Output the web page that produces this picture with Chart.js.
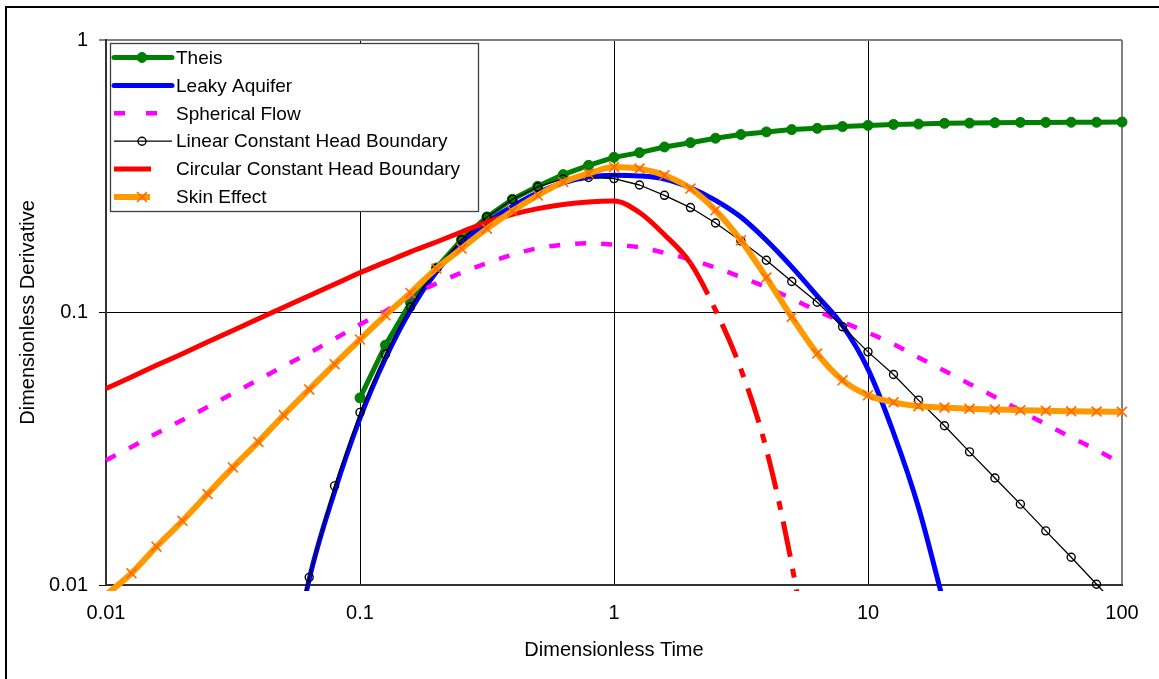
<!DOCTYPE html>
<html>
<head>
<meta charset="utf-8">
<script src="https://cdn.jsdelivr.net/npm/chart.js@4.4.0/dist/chart.umd.min.js"></script>
<style>
  html, body { margin: 0; padding: 0; background: #fff; }
  #wrap { width: 1159px; height: 679px; }
</style>
</head>
<body>
<div id="wrap"><canvas id="derivChart" width="1159" height="679"></canvas></div>
<script>
// dimensionless time, 10 points per log cycle
const timeValues = [0.01, 0.0126, 0.0158, 0.02, 0.0251, 0.0316, 0.0398, 0.0501, 0.0631, 0.0794,
                    0.1, 0.126, 0.158, 0.2, 0.251, 0.316, 0.398, 0.501, 0.631, 0.794,
                    1, 1.26, 1.58, 2, 2.51, 3.16, 3.98, 5.01, 6.31, 7.94,
                    10, 12.6, 15.8, 20, 25.1, 31.6, 39.8, 50.1, 63.1, 79.4, 100];
const xTickValues = [0.01, 0.1, 1, 10, 100];
const yTickValues = [0.01, 0.1, 1];

const seriesNames = ['Theis', 'Leaky Aquifer', 'Spherical Flow', 'Linear Constant Head Boundary',
                     'Circular Constant Head Boundary', 'Skin Effect'];

const theis = [null, null, null, null, null, null, null, null, null, null,
               0.0486, 0.0759, 0.1088, 0.1457, 0.1852, 0.2242, 0.2603, 0.2905, 0.3206, 0.3468,
               0.371, 0.386, 0.405, 0.420, 0.436, 0.450, 0.460, 0.469, 0.474, 0.481,
               0.486, 0.490, 0.4915, 0.4945, 0.4955, 0.497, 0.4985, 0.4985, 0.499, 0.499, 0.5];
const leaky = [null, null, null, null, null, null, null, 0.0035, 0.0105, 0.022,
               0.041, 0.068, 0.102, 0.141, 0.178, 0.213, 0.245, 0.275, 0.299, 0.314,
               0.319, 0.317, 0.309, 0.287, 0.258, 0.224, 0.184, 0.147, 0.1150, 0.0895,
               0.062, 0.0362, 0.0193, 0.0084, null, null, null, null, null, null, null];
const spherical = [0.0287, 0.0321, 0.036, 0.0403, 0.045, 0.0505, 0.0566, 0.0636, 0.0711, 0.080,
                   0.0904, 0.1012, 0.115, 0.1278, 0.140, 0.1517, 0.163, 0.1722, 0.1773, 0.1796,
                   0.1774, 0.1735, 0.1655, 0.1565, 0.146, 0.135, 0.1238, 0.1125, 0.1014, 0.0924,
                   0.0844, 0.0765, 0.0684, 0.0611, 0.0547, 0.049, 0.0436, 0.0389, 0.0348, 0.0313, 0.0279];
const linearBoundary = [null, null, null, null, null, null, null, 0.0043, 0.01067, 0.0231,
                        0.043, 0.0703, 0.1048, 0.145, 0.185, 0.224, 0.260, 0.2888, 0.309, 0.313,
                        0.310, 0.2937, 0.2692, 0.2427, 0.2131, 0.183, 0.1555, 0.130, 0.109, 0.0886,
                        0.0717, 0.0592, 0.0477, 0.0384, 0.0308, 0.0247, 0.0198, 0.0158, 0.01264, 0.01006, 0.0080];
const circularBoundary = [0.0526, 0.058, 0.064, 0.0706, 0.0779, 0.0859, 0.0948, 0.1045, 0.1153, 0.127,
                          0.140, 0.153, 0.167, 0.1815, 0.1975, 0.2148, 0.229, 0.2406, 0.249, 0.2545,
                          0.2565, 0.2327, 0.1929, 0.1517, 0.102, 0.0619, 0.0315, 0.0119, 0.0033, null,
                          null, null, null, null, null, null, null, null, null, null, null];
const skin = [0.0092, 0.01104, 0.01382, 0.0172, 0.02156, 0.027, 0.0335, 0.042, 0.0522, 0.0646,
              0.0796, 0.0977, 0.118, 0.145, 0.1717, 0.203, 0.2358, 0.269, 0.301, 0.3234,
              0.342, 0.3373, 0.3188, 0.285, 0.2372, 0.184, 0.1344, 0.0963, 0.0707, 0.0564,
              0.0497, 0.0468, 0.0453, 0.0448, 0.0443, 0.0441, 0.0438, 0.0436, 0.0434, 0.0433, 0.0432];

function toPoints(values) {
    return timeValues.map((t, i) => ({ x: t, y: values[i] })).filter(p => p.y !== null);
}

const fontFamily = "'Liberation Sans', Arial, sans-serif";
Chart.defaults.font.family = fontFamily;
Chart.defaults.color = '#000';

const plotClip = { left: 8, top: 8, right: 8, bottom: 6 };

// white page with the black frame round it
const pageFrame = {
    id: 'pageFrame',
    beforeDraw(chart) {
        const ctx = chart.ctx;
        ctx.save();
        ctx.fillStyle = '#fff';
        ctx.fillRect(0, 0, chart.width, chart.height);
        ctx.strokeStyle = '#000';
        ctx.lineWidth = 2;
        ctx.beginPath();
        ctx.moveTo(6, chart.height);
        ctx.lineTo(6, 7);
        ctx.lineTo(chart.width, 7);
        ctx.stroke();
        ctx.restore();
    }
};

function drawMarker(ctx, ds, x, y) {
    ctx.lineWidth = ds.pointBorderWidth;
    ctx.strokeStyle = ds.pointBorderColor;
    ctx.fillStyle = ds.pointBackgroundColor;
    const r = ds.pointRadius;
    ctx.beginPath();
    if (ds.pointStyle === 'crossRot') {
        const d = r * Math.SQRT1_2;
        ctx.moveTo(x - d, y - d); ctx.lineTo(x + d, y + d);
        ctx.moveTo(x - d, y + d); ctx.lineTo(x + d, y - d);
        ctx.stroke();
    } else {
        ctx.arc(x, y, r, 0, Math.PI * 2);
        ctx.fill();
        ctx.stroke();
    }
}

// legend box in the top-left corner of the plot
const legendPanel = {
    id: 'legendPanel',
    afterDraw(chart) {
        const ctx = chart.ctx;
        ctx.save();
        ctx.fillStyle = '#fff';
        ctx.fillRect(110, 43, 369, 168);
        ctx.strokeStyle = '#404040';
        ctx.lineWidth = 1.3;
        ctx.strokeRect(110.5, 43.5, 368, 168);
        ctx.font = '19px ' + fontFamily;
        ctx.textBaseline = 'middle';
        ctx.textAlign = 'left';
        chart.data.datasets.forEach((ds, i) => {
            const y = 57.5 + i * 27.9;
            ctx.save();
            ctx.strokeStyle = ds.borderColor;
            ctx.lineWidth = ds.borderWidth;
            ctx.lineCap = ds.sampleCap || 'butt';
            ctx.setLineDash(ds.sampleDash || []);
            ctx.beginPath();
            ctx.moveTo(114, y);
            ctx.lineTo(ds.sampleEnd, y);
            ctx.stroke();
            ctx.setLineDash([]);
            if (ds.pointRadius > 0) drawMarker(ctx, ds, 142, y);
            ctx.restore();
            ctx.fillStyle = '#000';
            ctx.fillText(ds.label, 176, y + 1);
        });
        ctx.restore();
    }
};

const gridColor = (edge) => (c) => (c.tick && c.tick.value === edge ? '#808080' : '#000');
const gridWidth = (edge) => (c) => (c.tick && c.tick.value === edge ? 2 : 1);

const ctx = document.getElementById('derivChart').getContext('2d');
const derivChart = new Chart(ctx, {
    type: 'line',
    data: {
        datasets: [
        {
            label: seriesNames[0],
            data: toPoints(theis),
            borderColor: '#008000',
            backgroundColor: '#008000',
            borderWidth: 5,
            pointStyle: 'circle',
            pointRadius: 5,
            pointBackgroundColor: '#008000',
            pointBorderColor: '#008000',
            pointBorderWidth: 1,
            order: 6,
            sampleEnd: 172,
            sampleCap: 'round'
        },
        {
            label: seriesNames[1],
            data: toPoints(leaky),
            borderColor: '#0000FF',
            backgroundColor: '#0000FF',
            borderWidth: 5,
            pointRadius: 0,
            cubicInterpolationMode: 'monotone',
            order: 5,
            sampleEnd: 172,
            sampleCap: 'round'
        },
        {
            label: seriesNames[2],
            data: toPoints(spherical),
            borderColor: '#FF00FF',
            backgroundColor: '#FF00FF',
            borderWidth: 4.5,
            borderDash: [11, 15],
            pointRadius: 0,
            cubicInterpolationMode: 'monotone',
            order: 4,
            sampleEnd: 157,
            sampleDash: [11, 21]
        },
        {
            label: seriesNames[3],
            data: toPoints(linearBoundary),
            borderColor: '#000000',
            backgroundColor: '#000000',
            borderWidth: 1.3,
            pointStyle: 'circle',
            pointRadius: 4,
            pointBackgroundColor: 'rgba(0,0,0,0)',
            pointBorderColor: '#000000',
            pointBorderWidth: 1.4,
            order: 3,
            sampleEnd: 172
        },
        {
            label: seriesNames[4],
            data: toPoints(circularBoundary),
            borderColor: '#FF0000',
            backgroundColor: '#FF0000',
            borderWidth: 5,
            pointRadius: 0,
            cubicInterpolationMode: 'monotone',
            segment: {
                borderDash: (s) => (s.p0.parsed.x >= 2 ? [36, 12, 9, 12] : undefined)
            },
            order: 2,
            sampleEnd: 151
        },
        {
            label: seriesNames[5],
            data: toPoints(skin),
            borderColor: '#FF9900',
            backgroundColor: '#FF9900',
            borderWidth: 6,
            pointStyle: 'crossRot',
            pointRadius: 7,
            pointBackgroundColor: '#FF6600',
            pointBorderColor: '#FF6600',
            pointBorderWidth: 1.6,
            cubicInterpolationMode: 'monotone',
            order: 1,
            sampleEnd: 150
        }]
    },
    options: {
        responsive: false,
        animation: false,
        events: [],
        clip: plotClip,
        elements: {
            line: { capBezierPoints: false, borderJoinStyle: 'round' }
        },
        layout: {
            padding: { left: 0, top: 40, right: 37, bottom: 0 }
        },
        scales: {
            x: {
                type: 'logarithmic',
                position: 'bottom',
                min: 0.01,
                max: 100,
                afterBuildTicks: (s) => { s.ticks = xTickValues.map(v => ({ value: v })); },
                afterFit: (s) => { s.height = 94; },
                ticks: {
                    callback: (v) => String(v),
                    font: { size: 20 },
                    color: '#000',
                    padding: 16,
                    maxRotation: 0,
                    autoSkip: false
                },
                grid: {
                    drawTicks: false,
                    color: gridColor(100),
                    lineWidth: gridWidth(100)
                },
                border: { color: '#333', width: 2 },
                title: {
                    display: true,
                    text: 'Dimensionless Time',
                    font: { size: 20 },
                    color: '#000',
                    padding: { top: 0, bottom: 17 }
                }
            },
            y: {
                type: 'logarithmic',
                min: 0.01,
                max: 1,
                afterBuildTicks: (s) => { s.ticks = yTickValues.map(v => ({ value: v })); },
                afterFit: (s) => { s.width = 106; },
                ticks: {
                    callback: (v) => String(v),
                    font: { size: 20 },
                    color: '#000',
                    padding: 11
                },
                grid: {
                    tickLength: 7,
                    color: gridColor(1),
                    lineWidth: gridWidth(1)
                },
                border: { color: '#333', width: 2 },
                title: {
                    display: true,
                    text: 'Dimensionless Derivative',
                    font: { size: 20 },
                    color: '#000',
                    padding: { top: 16, bottom: 0 }
                }
            }
        },
        plugins: {
            legend: { display: false },
            tooltip: { enabled: false }
        }
    },
    plugins: [pageFrame, legendPanel]
});
</script>
</body>
</html>
